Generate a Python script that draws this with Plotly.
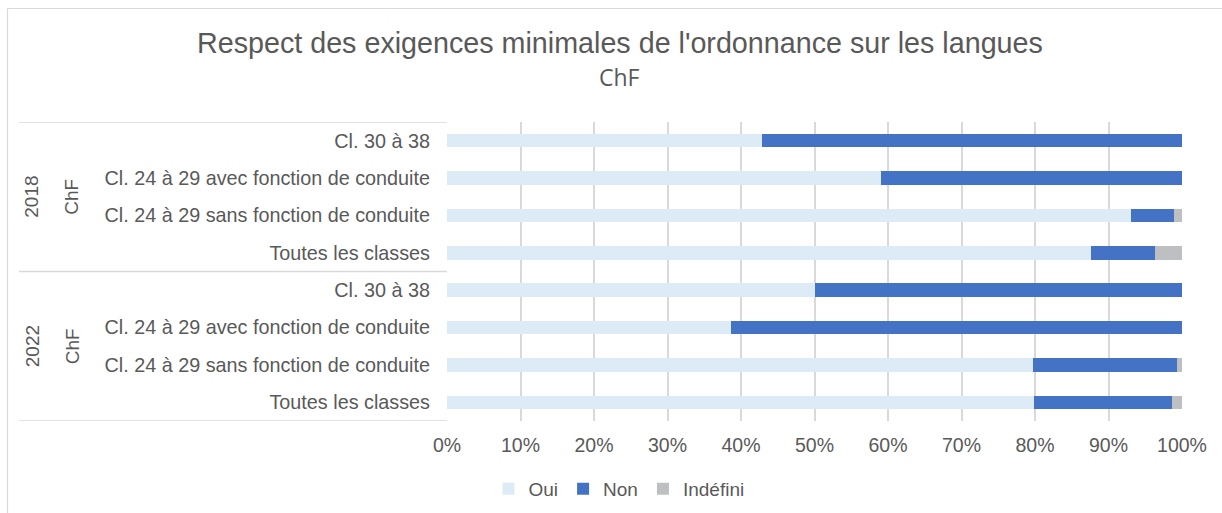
import plotly.graph_objects as go

# ---- data ----
years = ["2018", "2022"]
groups = ["ChF", "ChF"]
classes = [
    "Cl. 30 à 38",
    "Cl. 24 à 29 avec fonction de conduite",
    "Cl. 24 à 29 sans fonction de conduite",
    "Toutes les classes",
    "Cl. 30 à 38",
    "Cl. 24 à 29 avec fonction de conduite",
    "Cl. 24 à 29 sans fonction de conduite",
    "Toutes les classes",
]
oui = [42.9, 59.0, 93.0, 87.6, 50.0, 38.7, 79.7, 79.9]
non = [57.1, 41.0, 5.9, 8.7, 50.0, 61.3, 19.6, 18.7]
indefini = [0.0, 0.0, 1.1, 3.7, 0.0, 0.0, 0.7, 1.4]
x_ticks = [0, 10, 20, 30, 40, 50, 60, 70, 80, 90, 100]
x_tick_labels = ["0%", "10%", "20%", "30%", "40%", "50%", "60%", "70%", "80%", "90%", "100%"]

series_names = ["Oui", "Non", "Indéfini"]
series_colors = ["#DDEBF7", "#4472C4", "#BEBFC3"]

# ---- layout geometry (pixels) ----
W, H = 1222, 513
L, R, T, B = 447, 40, 122, 92
PW, PH = W - L - R, H - T - B


def px_x(px):
    return (px - L) / PW


def px_y(py):
    return (H - B - py) / PH


pos = list(range(len(classes)))
fig = go.Figure()
for name, vals, col in zip(series_names, [oui, non, indefini], series_colors):
    fig.add_trace(go.Bar(
        y=pos, x=vals, name=name, orientation="h",
        marker=dict(color=col, line=dict(width=0)),
        width=0.36,
    ))

gray = "#595959"
font_main = "Liberation Sans, Arial, sans-serif"

fig.update_layout(
    width=W, height=H,
    margin=dict(l=L, r=R, t=T, b=B, pad=0, autoexpand=False),
    barmode="stack",
    plot_bgcolor="white", paper_bgcolor="white",
    font=dict(family=font_main, color=gray, size=20),
    showlegend=True,
    legend=dict(orientation="h", xref="container", yref="container",
                x=619 / W, y=1 - 489 / H, xanchor="center",
                yanchor="middle", font=dict(size=19, color=gray),
                itemwidth=30, traceorder="normal"),
    xaxis=dict(range=[0, 100], tickvals=x_ticks, ticktext=x_tick_labels,
               showgrid=True, gridcolor="#D9D9D9", gridwidth=1.5,
               zeroline=False, showline=False, ticks="",
               ticklabelstandoff=10, automargin=False,
               tickfont=dict(size=19.5, color=gray), fixedrange=True),
    yaxis=dict(range=[len(classes) - 0.5, -0.5], tickvals=pos, ticktext=classes,
               showgrid=False, zeroline=False, showline=False, ticks="",
               ticklabelstandoff=16, automargin=False,
               tickfont=dict(size=19.8, color=gray)),
)

# title & subtitle
fig.add_annotation(text="Respect des exigences minimales de l'ordonnance sur les langues",
                   xref="paper", yref="paper", x=px_x(619.5), y=px_y(43),
                   xanchor="center", yanchor="middle", showarrow=False,
                   font=dict(size=28.7, color=gray, family=font_main))
fig.add_annotation(text="ChF", xref="paper", yref="paper", x=px_x(619), y=px_y(77),
                   xanchor="center", yanchor="middle", showarrow=False,
                   font=dict(size=23, color=gray, family="Open Sans, sans-serif"))

# group labels (year and ChF), rotated
n_per = len(classes) // len(years)
for i, (yr, grp) in enumerate(zip(years, groups)):
    yc = i * n_per + (n_per - 1) / 2
    fig.add_annotation(text=yr, xref="paper", yref="y", x=px_x(32), y=yc,
                       textangle=-90, showarrow=False, xanchor="center",
                       yanchor="middle", font=dict(size=19, color=gray))
    fig.add_annotation(text=grp, xref="paper", yref="y", x=px_x(72), y=yc,
                       textangle=-90, showarrow=False, xanchor="center",
                       yanchor="middle", font=dict(size=19, color=gray))

# group separator lines in category area
for k in range(len(years) + 1):
    yy = k * n_per - 0.5
    fig.add_shape(type="line", xref="paper", yref="y", x0=px_x(19), x1=0,
                  y0=yy, y1=yy, line=dict(color="#D9D9D9", width=1.5), layer="below")

# outer chart frame (left and top edges)
fig.add_shape(type="line", xref="paper", yref="paper", x0=px_x(7.5), x1=px_x(7.5),
              y0=px_y(8.5), y1=px_y(H + 5), line=dict(color="#D9D9D9", width=1.2))
fig.add_shape(type="line", xref="paper", yref="paper", x0=px_x(7.5), x1=px_x(W + 5),
              y0=px_y(8.5), y1=px_y(8.5), line=dict(color="#D9D9D9", width=1.2))

fig.write_html("out.html", config={"displayModeBar": False},
               post_script="document.body.style.margin='0px';document.body.style.overflow='hidden';")
